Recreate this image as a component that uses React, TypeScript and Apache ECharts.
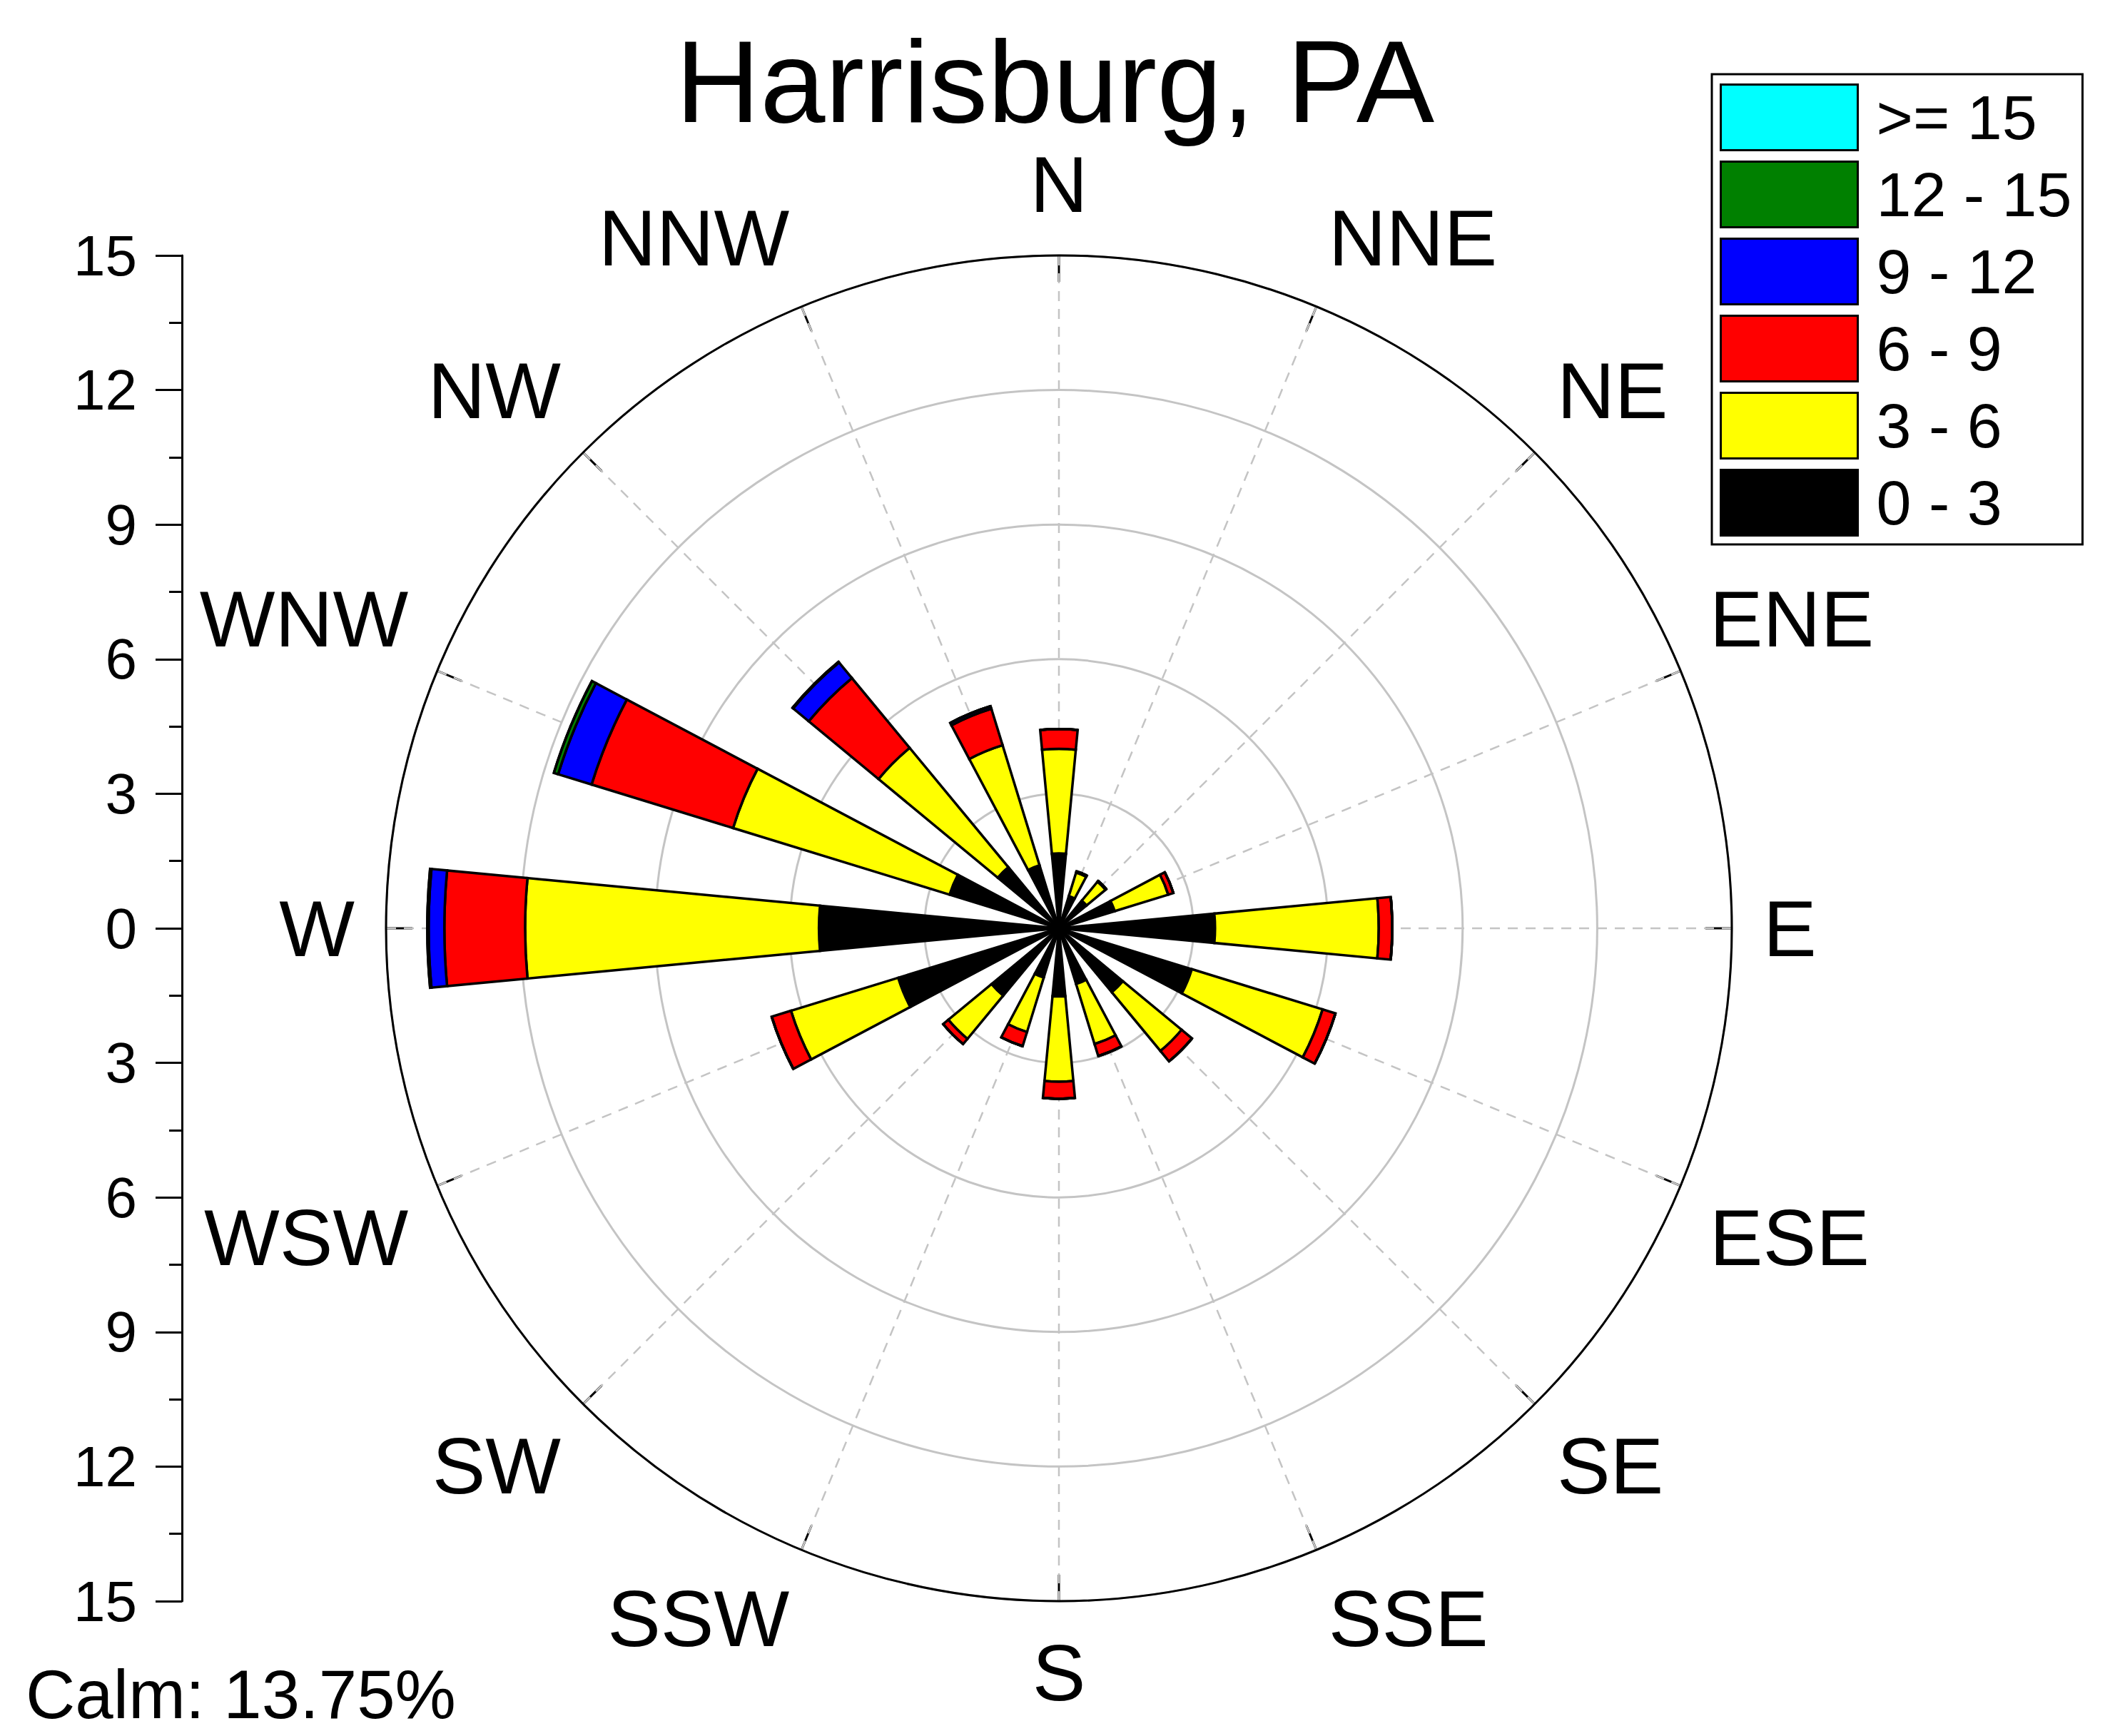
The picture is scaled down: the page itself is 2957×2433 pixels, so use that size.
import React, { useEffect, useRef } from 'react';
import * as echarts from 'echarts';

// Wind directions (clockwise from North)
const directions = ['N', 'NNE', 'NE', 'ENE', 'E', 'ESE', 'SE', 'SSE', 'S', 'SSW', 'SW', 'WSW', 'W', 'WNW', 'NW', 'NNW'];

// Speed bins (inner to outer) and their colours
const speedBins = ['0 - 3', '3 - 6', '6 - 9', '9 - 12', '12 - 15', '>= 15'];
const binColors = ['#000000', '#ffff00', '#ff0000', '#0000ff', '#008000', '#00ffff'];

// Frequency (%) for each direction, per speed bin
const freq0to3 = [1.67, 0.75, 0.8, 1.3, 3.48, 3.1, 1.85, 1.3, 1.52, 1.15, 1.95, 3.75, 5.35, 2.55, 1.77, 1.47];
const freq3to6 = [2.33, 0.55, 0.55, 1.25, 3.65, 3.05, 1.7, 1.4, 1.9, 1.27, 1.25, 2.5, 6.55, 5.05, 3.45, 2.8];
const freq6to9 = [0.44, 0.03, 0.02, 0.12, 0.3, 0.3, 0.3, 0.28, 0.38, 0.33, 0.15, 0.45, 1.8, 3.3, 2.02, 0.85];
const freq9to12 = [0, 0, 0, 0, 0, 0, 0, 0, 0, 0, 0, 0, 0.35, 0.78, 0.45, 0.06];
const freq12to15 = [0, 0, 0, 0, 0, 0, 0, 0, 0, 0, 0, 0, 0.03, 0.1, 0.02, 0];
const freq15plus = [0, 0, 0, 0, 0, 0, 0, 0, 0, 0, 0, 0, 0, 0, 0, 0];

const binData = [freq0to3, freq3to6, freq6to9, freq9to12, freq12to15, freq15plus];

// Legend order (top to bottom)
const legendOrder = ['>= 15', '12 - 15', '9 - 12', '6 - 9', '3 - 6', '0 - 3'];

const titleText = 'Harrisburg, PA';
const calmText = 'Calm: 13.75%';
const radialMax = 15;
const radialStep = 3;

const FONT = '"Liberation Sans", Arial, Helvetica, sans-serif';

export default function App() {
  const ref = useRef<HTMLDivElement>(null);

  useEffect(() => {
    if (!ref.current) return;
    const chart = echarts.init(ref.current, null, { renderer: 'svg' });
    const cx = 1484;
    const cy = 1301;
    const R = 943;

    const barSeries = speedBins.map((name, i) => ({
      name,
      type: 'bar',
      coordinateSystem: 'polar',
      polarIndex: 0,
      stack: 'wind',
      barWidth: '48%',
      data: binData[i],
      itemStyle: { color: binColors[i], borderColor: '#000', borderWidth: 3.5 },
      z: 3,
    }));

    const option: any = {
      animation: false,
      backgroundColor: '#ffffff',
      textStyle: { fontFamily: FONT },
      title: {
        text: titleText,
        left: 'center',
        top: 27,
        textStyle: { fontSize: 164, fontWeight: 'normal', color: '#000', fontFamily: FONT },
      },
      legend: {
        orient: 'vertical',
        left: 2399,
        top: 104,
        padding: [13, 15, 11, 11],
        itemWidth: 192,
        itemHeight: 92,
        itemGap: 13,
        icon: 'rect',
        borderColor: '#000',
        borderWidth: 3,
        selectedMode: false,
        itemStyle: { borderColor: '#000', borderWidth: 3 },
        textStyle: { fontSize: 88, lineHeight: 80, color: '#000', fontFamily: FONT, padding: [0, 0, 0, 21] },
        data: legendOrder,
      },
      polar: [
        { center: [cx, cy], radius: R },
        { center: [cx, cy], radius: R },
      ],
      angleAxis: [
        {
          polarIndex: 0,
          type: 'category',
          data: directions,
          startAngle: 90 + 360 / directions.length / 2,
          clockwise: true,
          axisLine: { show: false },
          axisTick: { show: false },
          splitLine: { show: false },
          axisLabel: { show: true, interval: 0, fontSize: 112, color: '#000', margin: 44, fontFamily: FONT },
          z: 1,
        },
        {
          polarIndex: 1,
          type: 'value',
          min: 0,
          max: 360,
          interval: 22.5,
          startAngle: 90,
          clockwise: true,
          axisLine: { show: true, lineStyle: { color: '#000', width: 3 } },
          axisTick: { show: true, inside: true, length: 37, lineStyle: { color: '#000', width: 3 } },
          axisLabel: { show: false },
          splitLine: { show: true, lineStyle: { color: '#c4c4c4', width: 2.5, type: [14, 11] } },
          z: 0,
        },
      ],
      radiusAxis: [
        {
          polarIndex: 0,
          type: 'value',
          min: 0,
          max: radialMax,
          axisLine: { show: false },
          axisTick: { show: false },
          axisLabel: { show: false },
          splitLine: { show: false },
        },
        {
          polarIndex: 1,
          type: 'value',
          min: 0,
          max: radialMax,
          interval: radialStep,
          axisLine: { show: false },
          axisTick: { show: false },
          axisLabel: { show: false },
          splitLine: { show: true, lineStyle: { color: '#c4c4c4', width: 3 } },
        },
      ],
      grid: { left: 255, top: cy - R, width: 10, height: 2 * R, containLabel: false },
      xAxis: { type: 'value', show: false, min: 0, max: 1 },
      yAxis: {
        type: 'value',
        min: -radialMax,
        max: radialMax,
        interval: radialStep,
        position: 'left',
        axisLine: { show: true, lineStyle: { color: '#000', width: 3 } },
        axisTick: { show: true, inside: false, length: 37, lineStyle: { color: '#000', width: 3 } },
        minorTick: { show: true, splitNumber: 2, length: 18, lineStyle: { color: '#000', width: 3 } },
        axisLabel: {
          fontSize: 80,
          color: '#000',
          margin: 63,
          fontFamily: FONT,
          formatter: (v: number) => String(Math.abs(v)),
        },
        splitLine: { show: false },
      },
      series: [
        ...barSeries,
        { type: 'scatter', xAxisIndex: 0, yAxisIndex: 0, data: [], silent: true },
      ],
      graphic: [
        {
          type: 'text',
          x: 36,
          y: 2374,
          style: { text: calmText, fontSize: 96, fill: '#000', fontFamily: FONT, verticalAlign: 'middle', align: 'left' },
        },
      ],
    };

    chart.setOption(option);
    return () => chart.dispose();
  }, []);

  return (
    <div
      ref={ref}
      style={{ position: 'absolute', left: 0, top: 0, width: 2957, height: 2433, background: '#fff' }}
    />
  );
}
